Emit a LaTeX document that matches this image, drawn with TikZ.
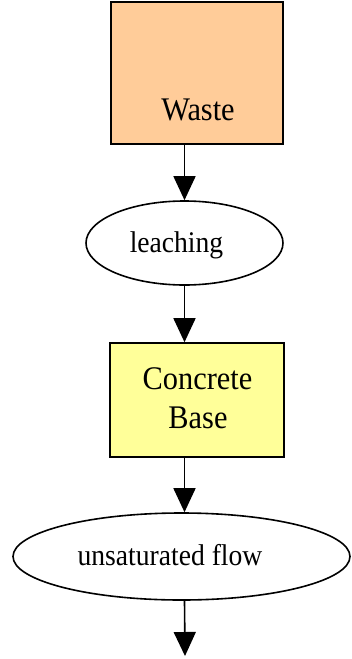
\documentclass[tikz,border=0pt]{standalone}
\usepackage{graphicx}
\usepackage{fontspec}
\setmainfont{Liberation Serif}
\usetikzlibrary{arrows.meta,shapes.geometric}

\definecolor{wastefill}{HTML}{FFCC99}
\definecolor{basefill}{HTML}{FFFF99}

\newcommand{\tightlbl}[1]{\scalebox{0.92}[1]{#1}}

\tikzset{
    box/.style={draw, line width=1.6pt, inner sep=0pt},
    blob/.style={draw, ellipse, line width=1.6pt, inner sep=0pt},
    flowarrow/.style={line width=1.6pt, -{Triangle[length=24pt,width=22pt]}},
    boxtxt/.style={inner sep=0pt, anchor=base, font=\fontsize{33}{40}\selectfont},
    blobtxt/.style={inner sep=0pt, anchor=base, font=\fontsize{30}{36}\selectfont},
}

\begin{document}
\begin{tikzpicture}[x=1pt, y=-1pt]
\useasboundingbox (0,0) rectangle (351,659);

%les sources

\node[box, fill=wastefill, minimum width=172pt, minimum height=142pt] (waste) at (197,73) {};
\node[boxtxt] (wastetxt) at (198,120) {\tightlbl{Waste}};

\node[blob, minimum width=197pt, minimum height=84pt] (leach) at (184.5,243) {};
\node[blobtxt] (leachtxt) at (176.5,252) {\tightlbl{leaching}};

%la base

\node[box, fill=basefill, minimum width=174pt, minimum height=114pt] (base) at (197,400) {};
\node[boxtxt] (basetxt1) at (197.5,389) {\tightlbl{Concrete}};
\node[boxtxt] (basetxt2) at (198,428) {\tightlbl{Base}};

\node[blob, minimum width=337pt, minimum height=87pt] (flow) at (181.5,556.5) {};
\node[blobtxt] (flowtxt) at (170,565) {\tightlbl{unsaturated flow}};
\coordinate (out) at (185,656);

%les flèches

\draw[flowarrow] (waste.south -| leach) -- (leach.north);
\draw[flowarrow] (leach.south) -- (base.north -| leach);
\draw[flowarrow] (base.south -| leach) -- (flow.north -| leach);
\draw[flowarrow] (flow.south -| leach) -- (out);
\end{tikzpicture}
\end{document}
